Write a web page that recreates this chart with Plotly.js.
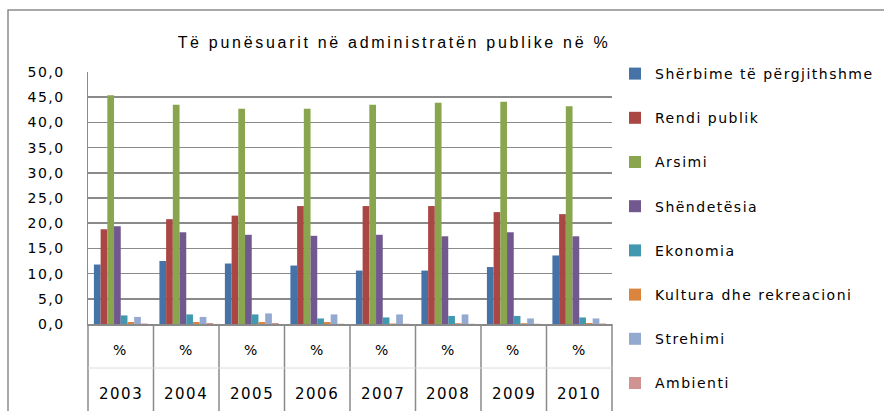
<!DOCTYPE html>
<html>
<head>
<meta charset="utf-8">
<script src="https://cdn.plot.ly/plotly-3.0.1.min.js"></script>
<style>
html,body{margin:0;padding:0;background:#fff;}
#chart{width:884px;height:411px;}
.gtitle{letter-spacing:2.7px;}
.legendtext{letter-spacing:1.5px;}
.ytick text{letter-spacing:1.5px;}
.annotation-text{letter-spacing:1.5px;}
</style>
</head>
<body>
<div id="chart"></div>
<script>
const years = ['2003','2004','2005','2006','2007','2008','2009','2010'];
const unitLabel = '%';
const seriesNames = ['Shërbime të përgjithshme','Rendi publik','Arsimi','Shëndetësia','Ekonomia','Kultura dhe rekreacioni','Strehimi','Ambienti'];
const sherbime    = [11.8, 12.5, 12.0, 11.6, 10.6, 10.6, 11.3, 13.6];
const rendi       = [18.8, 20.8, 21.5, 23.4, 23.4, 23.4, 22.2, 21.8];
const arsimi      = [45.4, 43.5, 42.7, 42.7, 43.5, 43.9, 44.1, 43.2];
const shendetesia = [19.4, 18.2, 17.7, 17.5, 17.7, 17.4, 18.2, 17.4];
const ekonomia    = [1.7, 1.9, 1.9, 1.1, 1.3, 1.6, 1.6, 1.3];
const kultura     = [0.4, 0.4, 0.4, 0.4, 0.1, 0.15, 0.15, 0.2];
const strehimi    = [1.4, 1.4, 2.1, 1.9, 1.9, 1.9, 1.1, 1.1];
const ambienti    = [0.1, 0.2, 0.2, 0.05, 0.05, 0.05, 0.05, 0.1];
const allValues = [sherbime, rendi, arsimi, shendetesia, ekonomia, kultura, strehimi, ambienti];
const colors = ['#4572A7','#AA4643','#89A54E','#71588F','#4198AF','#DB843D','#93A9CF','#D19392'];

const W = 884, H = 411;
const L = 88, R = 272, T = 72, B = 87;
const plotH = H - T - B;
const py = px => (H - B - px) / plotH;            // pixel y -> paper y
const pxX = px => (px - L) / (W - L - R);         // pixel x -> paper x

const traces = allValues.map((vals, i) => ({
  type: 'bar',
  name: seriesNames[i],
  x: years,
  y: vals,
  marker: {color: colors[i], line: {width: 0}},
  legendgroup: 'g' + i,
  hoverinfo: 'skip'
}));

const gray = '#8a8a8a';
const shapes = [];
// outer frame
shapes.push({type:'rect', xref:'paper', yref:'paper', x0:pxX(8), x1:pxX(1000), y0:py(600), y1:py(10),
  line:{color:'#8c8c8c', width:1.5}, fillcolor:'rgba(0,0,0,0)', layer:'below'});
// category table vertical lines
for (let i = 0; i <= years.length; i++) {
  shapes.push({type:'line', xref:'paper', yref:'paper', x0:i/years.length, x1:i/years.length,
    y0:0, y1:py(420), line:{color:gray, width:1.5}});
}
// faint separator between rows
shapes.push({type:'line', xref:'paper', yref:'paper', x0:0, x1:1, y0:py(368), y1:py(368),
  line:{color:'#dcdcdc', width:1}});

const annotations = [];
years.forEach((yr, i) => {
  const xc = (i + 0.5) / years.length;
  annotations.push({xref:'paper', yref:'paper', x:xc, y:py(350), text:unitLabel, showarrow:false,
    font:{family:'DejaVu Sans', size:14, color:'#000'}, xanchor:'center', yanchor:'middle'});
  annotations.push({xref:'paper', yref:'paper', x:xc, y:py(394), text:yr, showarrow:false,
    font:{family:'DejaVu Sans', size:15, color:'#000'}, xanchor:'center', yanchor:'middle'});
});

const layout = {
  width: W, height: H,
  margin: {l:L, r:R, t:T, b:B, pad:0, autoexpand:false},
  paper_bgcolor:'#fff', plot_bgcolor:'#fff',
  separators: ',.',
  barmode:'group', bargap:0.18, bargroupgap:0,
  title: {text:'Të punësuarit në administratën publike në %', xref:'paper', x:pxX(394), xanchor:'center',
    yref:'container', y:1 - 42/H, yanchor:'middle', automargin:false,
    font:{family:'Liberation Sans, Arial, sans-serif', size:16, color:'#000'}},
  xaxis: {type:'category', range:[-0.5, years.length - 0.5], showticklabels:false, ticks:'',
    showgrid:false, zeroline:false, showline:true, linecolor:gray, linewidth:2, fixedrange:true},
  yaxis: {range:[0,50], dtick:5, tickformat:'.1f', showgrid:true, gridcolor:gray, gridwidth:1.5,
    zeroline:false, showline:true, linecolor:gray, linewidth:1.5, ticks:'', ticklabelstandoff:19,
    tickfont:{family:'DejaVu Sans', size:14, color:'#000'}, fixedrange:true},
  legend: {x:pxX(615), xanchor:'left', y:py(58), yanchor:'top', tracegroupgap:23, maxheight:1,
    font:{family:'DejaVu Sans', size:14, color:'#000'}, itemwidth:30, bgcolor:'rgba(0,0,0,0)'},
  showlegend:true,
  shapes, annotations
};

Plotly.newPlot('chart', traces, layout, {displayModeBar:false, staticPlot:true});
</script>
</body>
</html>
